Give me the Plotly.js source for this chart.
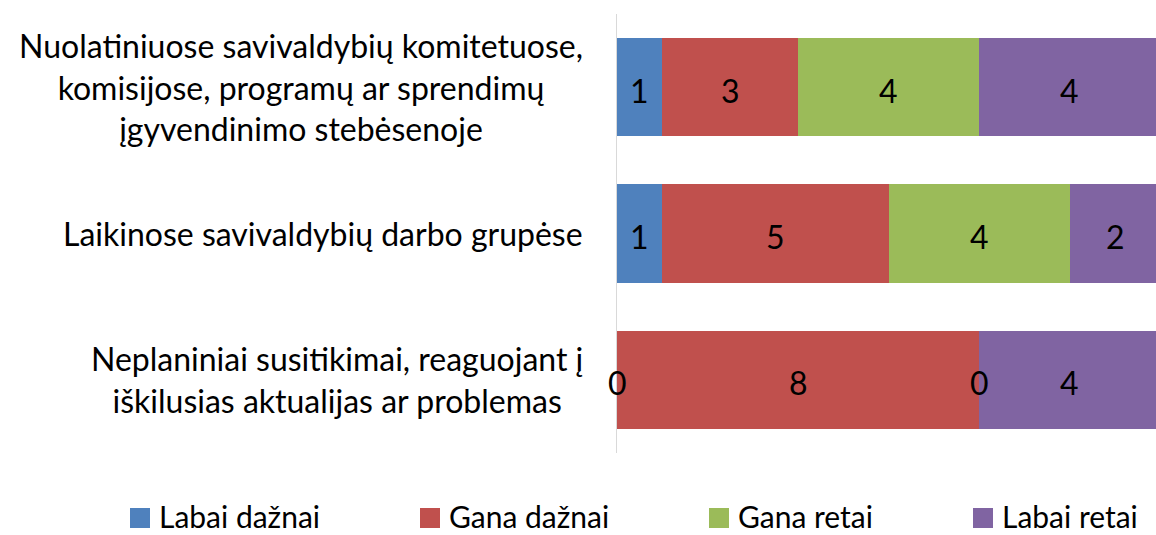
<!DOCTYPE html>
<html>
<head>
<meta charset="utf-8">
<script src="https://cdn.plot.ly/plotly-3.0.1.min.js"></script>
<style>html,body{margin:0;padding:0;background:#fff;}#chart{width:1156px;height:535px;}</style>
</head>
<body>
<div id="chart"></div>
<script>
const categories = [
  "Nuolatiniuose savivaldybių komitetuose,<br>komisijose, programų ar sprendimų<br>įgyvendinimo stebėsenoje",
  "Laikinose savivaldybių darbo grupėse",
  "Neplaniniai susitikimai, reaguojant į<br>iškilusias aktualijas ar problemas"
];
const seriesNames = ["Labai dažnai", "Gana dažnai", "Gana retai", "Labai retai"];
const labaiDaznai = [1, 1, 0];
const ganaDaznai = [3, 5, 8];
const ganaRetai = [4, 4, 0];
const labaiRetai = [4, 2, 4];
const colors = ["#4F81BD", "#C0504D", "#9BBB59", "#8064A2"];

const series = [labaiDaznai, ganaDaznai, ganaRetai, labaiRetai];
const FONT = "Lato, 'Open Sans', sans-serif";
const FS = 32;
const ids = categories.map((c, i) => "c" + i);

// plot area geometry (pixels)
const W = 1156, H = 535, ML = 617, MR = 0, MT = 14, MB = 82;
const PW = W - ML - MR, PH = H - MT - MB;
const px = (x) => (x - ML) / PW;          // pixel x -> paper x
const py = (y) => (H - MB - y) / PH;      // pixel y -> paper y

const traces = [];
series.forEach((vals, s) => {
  traces.push({
    type: "bar", orientation: "h", name: seriesNames[s], showlegend: false,
    y: ids, x: vals, marker: {color: colors[s], line: {width: 0}},
    hoverinfo: "skip"
  });
});

const annotations = [];
// data labels at segment midpoints (via data coordinates)
const cum = [0, 0, 0];
series.forEach((vals) => {
  vals.forEach((v, i) => {
    annotations.push({
      xref: "x", yref: "y", x: cum[i] + v / 2, y: ids[i], xanchor: "center", yanchor: "middle",
      yshift: -3, text: String(v), showarrow: false,
      font: {family: FONT, size: FS, color: "#000"}
    });
    cum[i] += v;
  });
});

// category labels
categories.forEach((c, i) => annotations.push({
  xref: "paper", yref: "y", x: 0, y: ids[i], xanchor: "right", yanchor: "middle",
  xshift: -32, text: c, showarrow: false, align: "center",
  font: {family: FONT, size: FS, color: "#000"}
}));

// custom legend (layout positions in pixels)
const legendSymX = [130, 420, 709, 973];
const legendCY = 518;
const shapes = [];
seriesNames.forEach((n, s) => {
  const x0 = legendSymX[s];
  shapes.push({
    type: "rect", xref: "paper", yref: "paper",
    x0: px(x0), x1: px(x0 + 20), y0: py(legendCY + 10), y1: py(legendCY - 10),
    fillcolor: colors[s], line: {width: 0}
  });
  annotations.push({
    xref: "paper", yref: "paper", x: px(x0 + 27), y: py(legendCY - 2),
    xanchor: "left", yanchor: "middle", text: n, showarrow: false,
    font: {family: FONT, size: 30, color: "#000"}
  });
});

const layout = {
  width: W, height: H,
  margin: {l: ML, r: MR, t: MT, b: MB, pad: 0},
  barmode: "stack", bargap: 0.33,
  paper_bgcolor: "#fff", plot_bgcolor: "#fff",
  showlegend: false,
  xaxis: {range: [0, 11.9], showgrid: false, zeroline: false, showticklabels: false, showline: false, ticks: "", fixedrange: true},
  yaxis: {type: "category", autorange: "reversed", showgrid: false, zeroline: false, showticklabels: false,
          showline: true, linecolor: "#D9D9D9", linewidth: 1.5, ticks: "", fixedrange: true},
  annotations: annotations,
  shapes: shapes,
  font: {family: FONT}
};

Plotly.newPlot("chart", traces, layout, {displayModeBar: false, staticPlot: true});
</script>
</body>
</html>
